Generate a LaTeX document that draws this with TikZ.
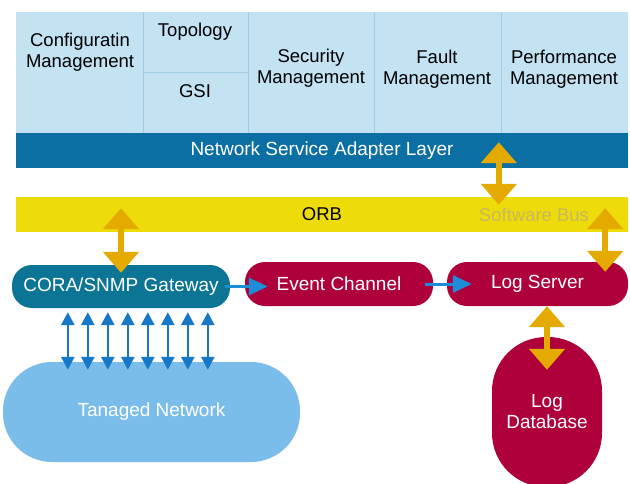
\documentclass[tikz,border=0pt]{standalone}
\usepackage{fontspec}
\setmainfont{Liberation Sans}
\usetikzlibrary{arrows.meta}

\definecolor{panel}{RGB}{195,226,242}
\definecolor{divider}{RGB}{160,204,228}
\definecolor{adapter}{RGB}{11,111,164}
\definecolor{orbyellow}{RGB}{238,220,10}
\definecolor{bustext}{RGB}{200,184,92}
\definecolor{gold}{RGB}{228,170,0}
\definecolor{teal}{RGB}{12,117,150}
\definecolor{crimson}{RGB}{174,0,58}
\definecolor{netblue}{RGB}{123,189,234}
\definecolor{linkblue}{RGB}{30,140,214}
\definecolor{pairblue}{RGB}{22,120,198}

\begin{document}
\begin{tikzpicture}[x=1pt,y=-1pt,
	every node/.style={font=\fontsize{18.5}{21}\selectfont, inner sep=0},
	light/.style={text=white, font=\fontsize{19}{21}\selectfont},
	bar/.style={rectangle, minimum width=612, minimum height=35},
	pill/.style={rectangle, rounded corners=20, minimum height=44, light},
	goldarrow/.style={draw=gold, line width=6, {Triangle[width=35pt,length=21pt]}-{Triangle[width=35pt,length=21pt]}},
	pairarrow/.style={draw=pairblue, line width=2.5, {Triangle[width=13pt,length=13pt]}-{Triangle[width=13pt,length=13pt]}},
	linkarrow/.style={draw=linkblue, line width=3, -{Triangle[width=17pt,length=19pt]}}]

\clip (0,0) rectangle (630,483);
\fill[white] (0,0) rectangle (630,483);

% management functions
\fill[panel] (16,12) rectangle (628,133);
\foreach \x in {143,248,374,501} {
	\draw[divider, line width=0.6] (\x,12) -- +(0,121);
}
\draw[divider, line width=0.6] (143,72) -- (248,72);

\node (conf) at (80,52) [align=center] {Configuratin\\Management};
\node (topo) at (195,32) {Topology}; \node (gsi) at (195,91) {GSI};
\node (sec) at (311,68) [align=center] {Security\\Management};
\node (fault) at (437,69) [align=center] {Fault\\Management};
\node (perf) at (564,69) [align=center] {Performance\\Management};

% layers
\node (nsal) at (322,150.5) [bar, fill=adapter, light] {Network Service Adapter Layer};
\node (orb) at (322,214.5) [bar, fill=orbyellow] {ORB};
\node (swbus) at (534,215) [text=bustext] {Software Bus};

% services
\node (gw) at (121,286.5) [pill, fill=teal, minimum width=218, minimum height=43] {CORA/SNMP Gateway};
\node (ev) at (339,284) [pill, fill=crimson, minimum width=188] {Event Channel};
\node (ls) at (537.5,284) [pill, fill=crimson, minimum width=181] {Log Server};
\node (net) at (151.5,412) [rectangle, rounded corners=49, fill=netblue, light, minimum width=297, minimum height=100] {Tanaged Network};
\node (logdb) at (547,412) [rectangle, rounded corners=54, fill=crimson, light, minimum width=110, minimum height=150, align=center] {Log\\Database};

\draw [goldarrow, shorten <=-8pt, shorten >=-24pt] (gw.north) -- (gw.north |- orb.south);
\draw [goldarrow, shorten <=-8pt, shorten >=-26pt] ([xshift=483pt]orb.north west) -- ([xshift=483pt]nsal.south west);
\draw [goldarrow, shorten <=-24pt, shorten >=-10pt] ([xshift=-23pt]orb.south east) -- ([xshift=-23pt]ls.north east);
\draw [goldarrow, shorten <=-33pt] (logdb.north) -- (logdb.north |- ls.south);

\foreach \dx in {56,76,...,196} {
	\draw [pairarrow, shorten <=4pt, shorten >=-8pt] ([xshift=\dx pt]gw.south west) -- ([xshift=\dx pt]gw.south west |- net.north);
}

\draw [linkarrow, shorten <=-5pt, shorten >=-23pt] (gw.east) -- (gw.east -| ev.west);
\draw [linkarrow, shorten <=-8pt, shorten >=-25pt] (ev.east) -- (ls.west);
\end{tikzpicture}
\end{document}
